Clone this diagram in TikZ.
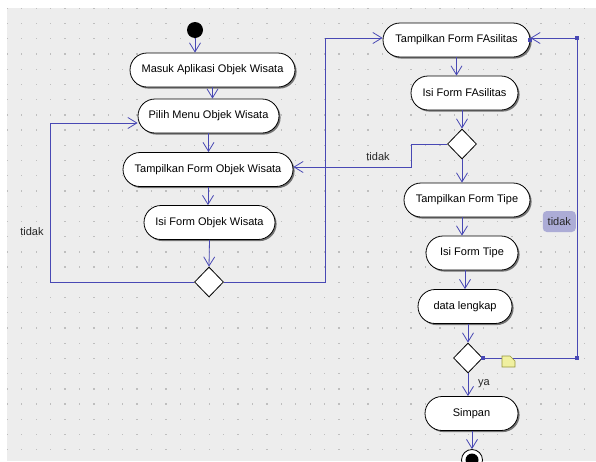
\documentclass[tikz,border=0pt]{standalone}
\usepackage{fontspec}
\setmainfont{Liberation Sans}
\usetikzlibrary{arrows.meta,shapes.geometric,shapes.misc,shadows,calc}
\definecolor{umlblue}{RGB}{72,72,180}
\definecolor{canvasgray}{RGB}{237,237,237}
\definecolor{griddot}{RGB}{190,190,190}
\definecolor{tagbg}{RGB}{172,172,214}
\definecolor{noteyellow}{RGB}{240,240,160}
\definecolor{noteedge}{RGB}{150,150,60}
\begin{document}
\begin{tikzpicture}[x=1pt,y=-1pt,
  font=\fontsize{11}{13}\selectfont,
  action/.style={rounded rectangle,draw=black,fill=white,line width=0.8pt,minimum height=34pt,inner sep=0pt,
    drop shadow={shadow xshift=1.6pt,shadow yshift=-1.6pt,fill=black!55,opacity=1}},
  decision/.style={diamond,draw=black,fill=white,line width=0.8pt,minimum width=29pt,minimum height=30pt,inner sep=0pt},
  flow/.style={draw=umlblue,line width=0.8pt,-{Straight Barb[length=9pt,width=11pt]}},
  port/.style={rectangle,fill=umlblue,minimum size=4pt,inner sep=0pt},
  guard/.style={inner sep=1pt,text=black!85}]
  \clip (0,0) rectangle (596,461);
  \fill[white] (0,0) rectangle (596,461);
  \fill[canvasgray] (7,8) rectangle (596,461);
  \foreach \i in {0,...,40}
    \foreach \j in {0,...,29}
      \fill[griddot] (7.3+14.42*\i-0.6,8.3+15.22*\j-0.6) rectangle +(1.3,1.3);

  % left column
  \node[circle,fill=black,minimum size=16pt,inner sep=0pt] (start) at (195,30) {};
  \node[action,minimum width=165pt] (masuk) at (212.5,70) {Masuk Aplikasi Objek Wisata};
  \node[action,minimum width=141pt] (pilih) at (208.5,116) {Pilih Menu Objek Wisata};
  \node[action,minimum width=170pt] (tampilOW) at (208,169.5) {Tampilkan Form Objek Wisata};
  \node[action,minimum width=131pt] (isiOW) at (209.5,222.5) {Isi Form Objek Wisata};
  \node[decision] (cekOW) at (209,282) {};

  % right column
  \node[action,minimum width=147pt] (tampilFas) at (456.5,40) {Tampilkan Form FAsilitas};
  \node[action,minimum width=107pt] (isiFas) at (464.5,93) {Isi Form FAsilitas};
  \node[decision] (cekFas) at (462,144) {};
  \node[action,minimum width=126pt] (tampilTipe) at (467,200) {Tampilkan Form Tipe};
  \node[action,minimum width=92pt] (isiTipe) at (472,253) {Isi Form Tipe};
  \node[action,minimum width=94pt] (lengkap) at (465,306.5) {data lengkap};
  \node[decision] (cekData) at (468,358) {};
  \node[action,minimum width=93pt] (simpan) at (471.5,413.5) {Simpan};
  \node[circle,draw=black,fill=white,line width=0.8pt,minimum size=21pt,inner sep=0pt] (finish) at (472,460) {};
  \fill[black] (finish) circle (6.5pt);

  \coordinate (loopL) at (50,123);
  \coordinate (loopR) at (325,38);
  \coordinate (backFas) at (411,167);
  \coordinate (loopF) at (577,38);

  \draw[flow] (start) -- (start |- masuk.north);
  \draw[flow] (masuk.south) -- (masuk.south |- pilih.north);
  \draw[flow] (pilih.south) -- (pilih.south |- tampilOW.north);
  \draw[flow] (tampilOW.south) -- (tampilOW.south |- isiOW.north);
  \draw[flow] (isiOW.south) -- (cekOW.north);
  \draw[flow] (cekOW.west) -| (loopL) -- (loopL -| pilih.west);
  \draw[flow] (cekOW.east) -| (loopR) -- (loopR -| tampilFas.west);
  \draw[flow] (tampilFas.south) -- (tampilFas.south |- isiFas.north);
  \draw[flow] (isiFas.south -| cekFas) -- (cekFas.north);
  \draw[flow] (cekFas.west) -| (backFas) -- (backFas -| tampilOW.east);
  \draw[flow] (cekFas.south) -- (cekFas.south |- tampilTipe.north);
  \draw[flow] (tampilTipe.south -| cekFas) -- (cekFas |- isiTipe.north);
  \draw[flow] (isiTipe.south -| lengkap) -- (lengkap.north);
  \draw[flow] (lengkap.south -| cekData) -- (cekData.north);
  \draw[flow] (cekData.east) -| (loopF) -- (loopF -| tampilFas.east);
  \draw[flow] (cekData.south) -- (cekData.south |- simpan.north);
  \draw[flow] (simpan.south -| finish) -- (finish.north);

  \node[port] (p1) at (cekData.east) {};
  \node[port] (p2) at (loopF |- cekData) {};
  \node[port] (p3) at (loopF) {};
  \node[port] (p4) at (tampilFas.east) {};
  \draw[noteedge,fill=noteyellow,line width=0.6pt] (502,356) -- (510,356) -- (515,361) -- (515,367) -- (502,367) -- cycle;

  \node[guard] (tidakOW) at (32,232) {tidak};
  \node[guard] (tidakFas) at (378,157) {tidak};
  \node[guard,fill=tagbg,rounded corners=4pt,minimum width=33pt,minimum height=21pt,anchor=east] (tidakData) at (576,221.5) {tidak};
  \node[guard] (ya) at (484,384) {ya};
\end{tikzpicture}
\end{document}
